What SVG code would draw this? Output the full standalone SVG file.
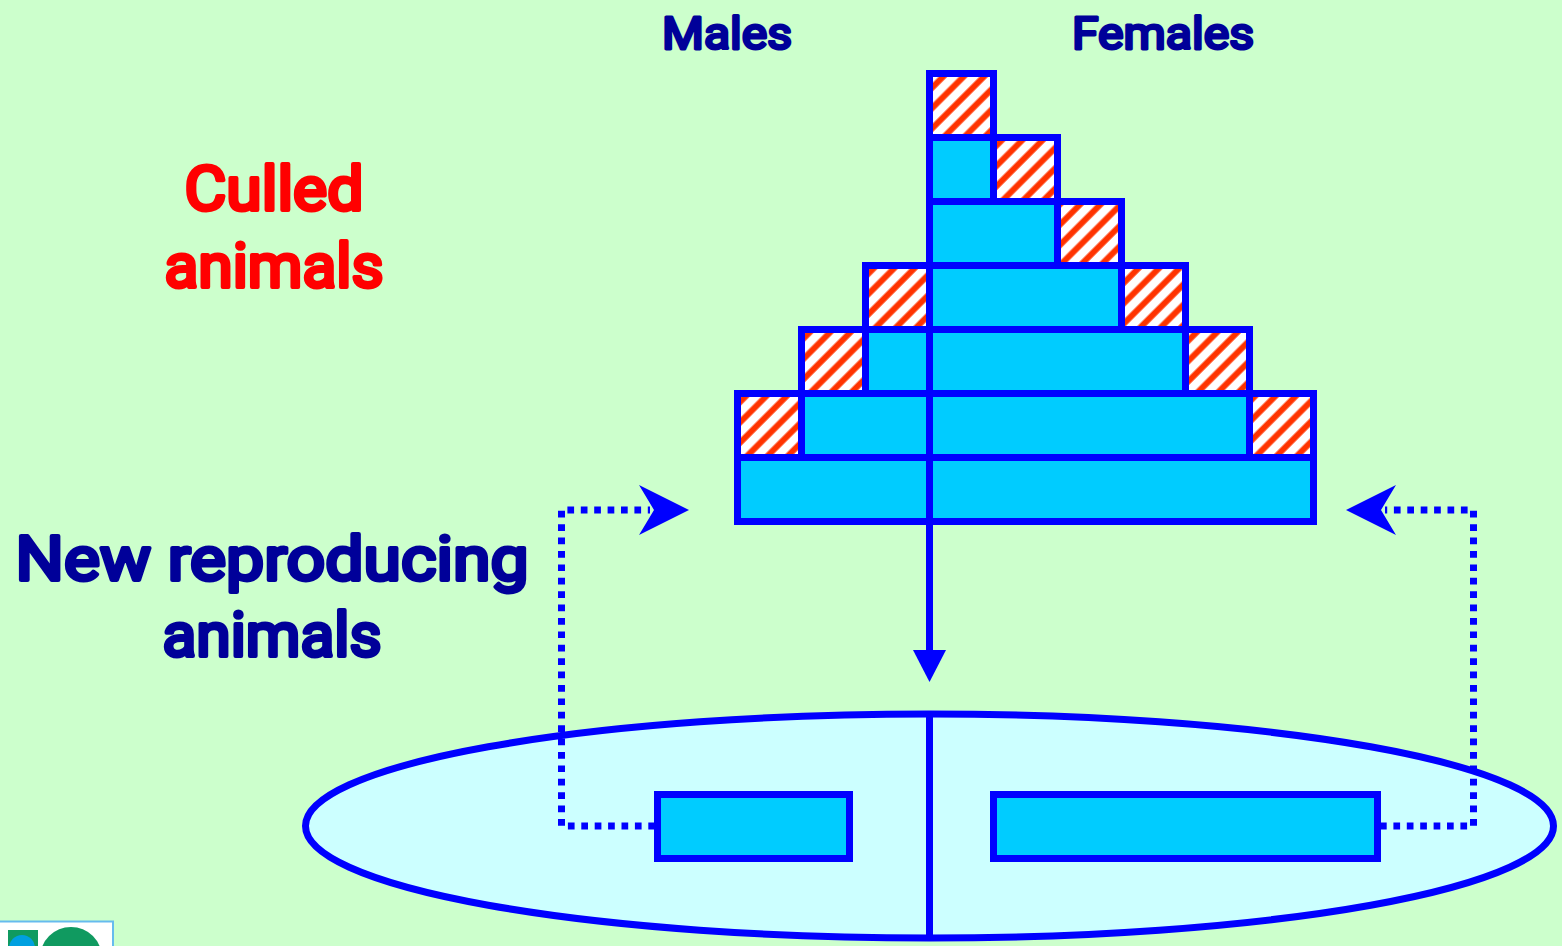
<svg xmlns="http://www.w3.org/2000/svg" width="1562" height="946" viewBox="0 0 1562 946">
<style>
.b{stroke:#0000ff;stroke-width:7;fill:#00ccff}
.h{stroke:#0000ff;stroke-width:7;fill:url(#hatch)}
.d{fill:none;stroke:#0000ff;stroke-width:7;stroke-dasharray:6.7 6.7}
.l{fill:none;stroke:#0000ff;stroke-width:7}
.a{fill:#0000ff}
text{font-family:Roboto,"Liberation Sans",sans-serif;font-weight:400;stroke-linejoin:round;stroke-linecap:round}
.n{fill:#000099;stroke:#000099}.r{fill:#ff0000;stroke:#ff0000}
.s{font-size:45px;stroke-width:3px}.m{font-size:62px;stroke-width:4px}
</style>
<defs>
<pattern id="hatch" width="14.4" height="14.4" patternUnits="userSpaceOnUse" patternTransform="translate(930 70) rotate(45)">
<rect width="14.4" height="14.4" fill="#fff"/><rect x="0" width="2.6" height="14.4" fill="#ff3300"/><rect x="11" width="3.4" height="14.4" fill="#ff3300"/>
</pattern>
</defs>
<rect width="1562" height="946" fill="#ccffcc"/>
<g id="logo">
<rect x="-2" y="921.5" width="115" height="30" fill="#fff" stroke="#66bbee" stroke-width="2"/>
<rect x="8" y="930" width="30" height="20" fill="#109a60"/>
<circle cx="22" cy="948" r="13" fill="#00a0e0"/>
<ellipse cx="71" cy="958" rx="31" ry="31" fill="#109a60"/>
</g>
<g id="ellipse"><ellipse cx="929.5" cy="826" rx="624" ry="112" fill="#ccffff" stroke="#0000ff" stroke-width="7"/></g>
<g id="pyramid">
<rect id="m6" class="h" x="929.5" y="73.5" width="64" height="64"/>
<rect id="f1b" class="b" x="929.5" y="137.5" width="64" height="64"/>
<rect id="f1h" class="h" x="993.5" y="137.5" width="64" height="64"/>
<rect id="f2b" class="b" x="929.5" y="201.5" width="128" height="64"/>
<rect id="f2h" class="h" x="1057.5" y="201.5" width="64" height="64"/>
<rect id="m3h" class="h" x="865.5" y="265.5" width="64" height="64"/>
<rect id="f3b" class="b" x="929.5" y="265.5" width="192" height="64"/>
<rect id="f3h" class="h" x="1121.5" y="265.5" width="64" height="64"/>
<rect id="m4h" class="h" x="801.5" y="329.5" width="64" height="64"/>
<rect id="m4b" class="b" x="865.5" y="329.5" width="64" height="64"/>
<rect id="f4b" class="b" x="929.5" y="329.5" width="256" height="64"/>
<rect id="f4h" class="h" x="1185.5" y="329.5" width="64" height="64"/>
<rect id="m5h" class="h" x="737.5" y="393.5" width="64" height="64"/>
<rect id="m5b" class="b" x="801.5" y="393.5" width="128" height="64"/>
<rect id="f5b" class="b" x="929.5" y="393.5" width="320" height="64"/>
<rect id="f5h" class="h" x="1249.5" y="393.5" width="64" height="64"/>
<rect id="m6b" class="b" x="737.5" y="457.5" width="192" height="64"/>
<rect id="f6b" class="b" x="929.5" y="457.5" width="384" height="64"/>
</g>
<g id="connectors">
<path class="l" d="M929.5 522V652"/>
<path class="a" d="M913 650H946L929.5 682Z"/>
<path class="l" d="M929.5 716V938"/>
<path class="d" d="M655 826H561.5V510H650"/>
<path class="a" d="M689 510L639 485L654 510L639 535Z"/>
<path class="d" d="M1380 826H1473.5V510H1385"/>
<path class="a" d="M1346 510L1396 485L1381 510L1396 535Z"/>
</g>
<g id="cohort-m"><rect class="b" x="657.5" y="794.5" width="192" height="64"/></g>
<g id="cohort-f"><rect class="b" x="993.5" y="794.5" width="384" height="64"/></g>
<g id="labels">
<text class="n s" x="727" y="49" text-anchor="middle" textLength="130" lengthAdjust="spacingAndGlyphs">Males</text>
<text class="n s" x="1163" y="49" text-anchor="middle" textLength="182" lengthAdjust="spacingAndGlyphs">Females</text>
<text class="r m" x="274" y="210" text-anchor="middle" textLength="179" lengthAdjust="spacingAndGlyphs">Culled</text>
<text class="r m" x="274" y="287" text-anchor="middle" textLength="219" lengthAdjust="spacingAndGlyphs">animals</text>
<text class="n m" x="272" y="580" text-anchor="middle" textLength="513" lengthAdjust="spacingAndGlyphs">New reproducing</text>
<text class="n m" x="272" y="656" text-anchor="middle" textLength="219" lengthAdjust="spacingAndGlyphs">animals</text>
</g>
</svg>
